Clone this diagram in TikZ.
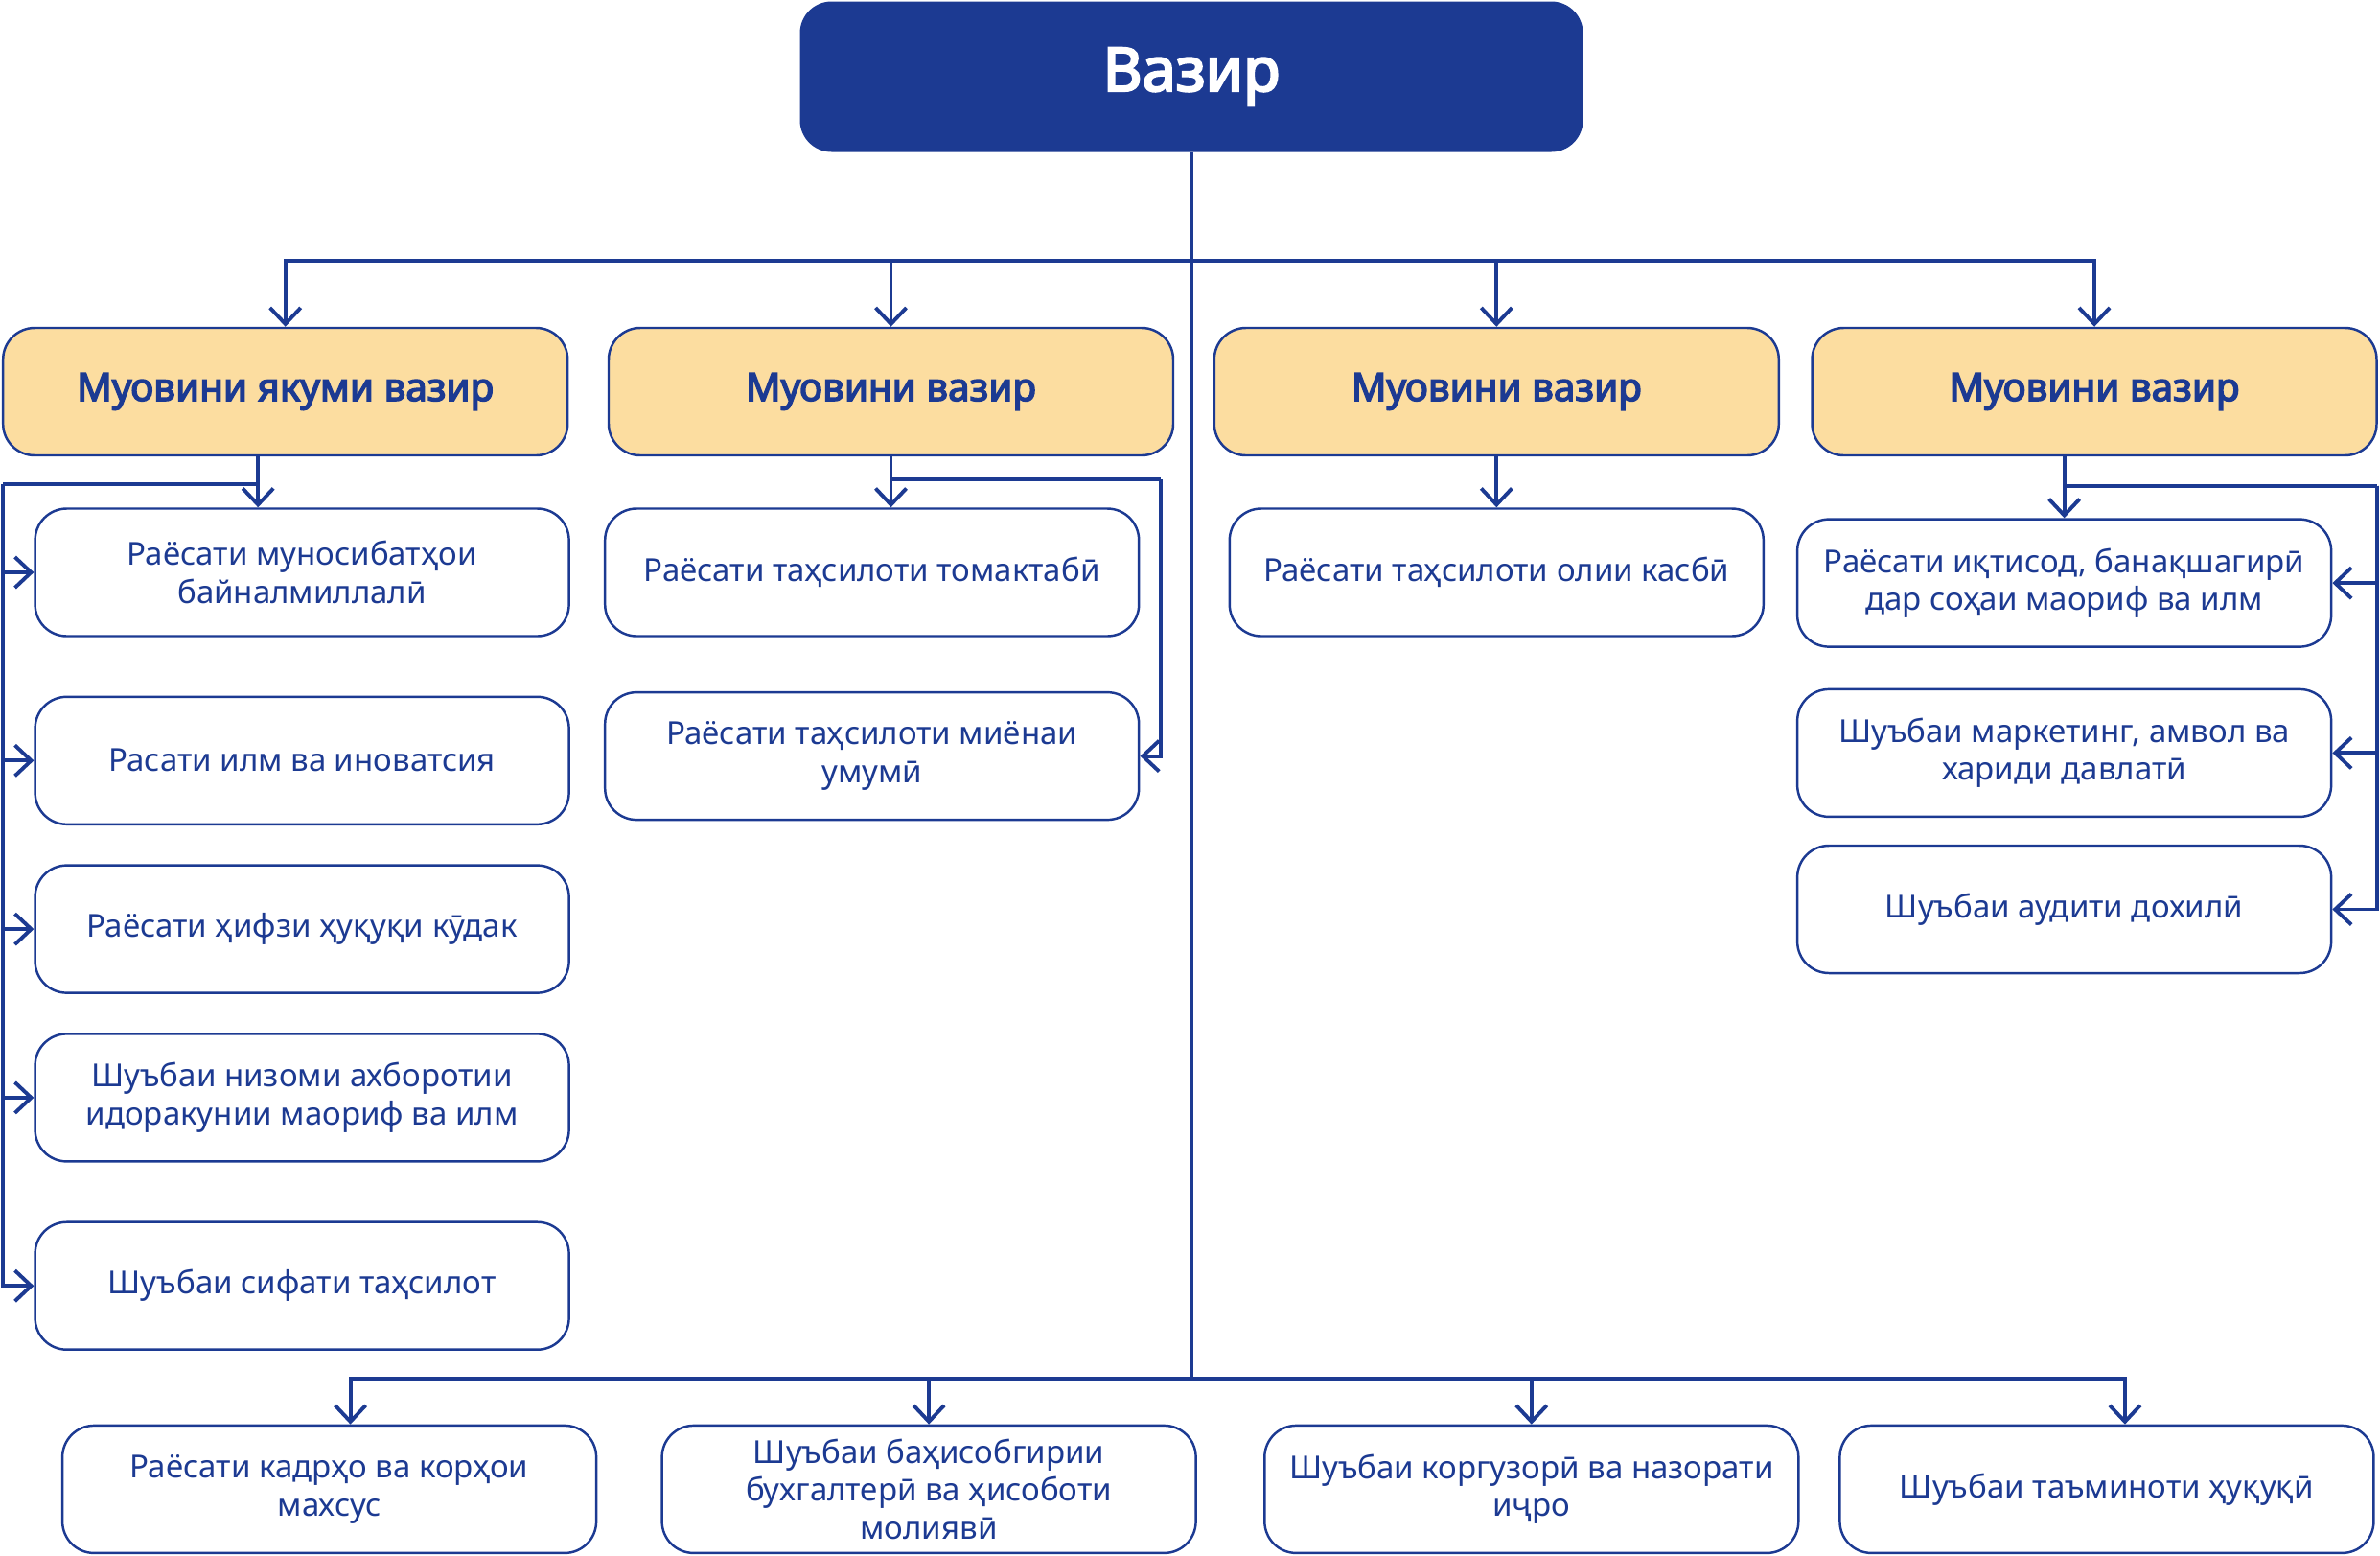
\documentclass[tikz,border=0pt]{standalone}
\usepackage{fontspec}
\setmainfont{Noto Sans}[AutoFakeBold=3.6]
\usepackage{tikz}
\usetikzlibrary{arrows.meta,positioning}

\definecolor{vblue}{RGB}{28,58,146}
\definecolor{vsand}{RGB}{252,221,160}

\begin{document}
\begin{tikzpicture}[
    >={Straight Barb[length=1.7mm, width=3.2mm, line width=1.1pt]},
    boss/.style={fill=vblue, rounded corners=0.33cm, minimum width=8.17cm, minimum height=1.57cm, text=white, font=\bfseries\fontsize{18}{21}\selectfont},
    dep/.style={draw=vblue, line width=0.7pt, fill=vsand, rounded corners=0.33cm, minimum width=5.89cm, minimum height=1.33cm, text=vblue, font=\bfseries\fontsize{11.5}{13}\selectfont},
    unit/.style={draw=vblue, line width=0.7pt, fill=white, rounded corners=0.33cm, align=center, minimum width=5.57cm, minimum height=1.33cm, text=vblue, font=\fontsize{9.4}{11.2}\selectfont},
    link/.style={draw=vblue, line width=1.1pt}
]
\useasboundingbox (0,0) rectangle (24.83,-16.22);

% Head
\node[boss] (vazir) at (12.43,-0.80) {Вазир};

% Deputies
\node[dep] (d1) at (2.977,-4.085) {Муовини якуми вазир};
\node[dep] (d2) at (9.295,-4.085) {Муовини вазир};
\node[dep] (d3) at (15.613,-4.085) {Муовини вазир};
\node[dep] (d4) at (21.85,-4.085) {Муовини вазир};

% First deputy units
\node[unit] (c11) at (3.151,-5.970) {Раёсати муносибатҳои\\байналмиллалӣ};
\node[unit] (c12) at (3.151,-7.933) {Расати илм ва иноватсия};
\node[unit] (c13) at (3.151,-9.691) {Раёсати ҳифзи ҳуқуқи кӯдак};
\node[unit] (c14) at (3.151,-11.449) {Шуъбаи низоми ахборотии\\идоракунии маориф ва илм};
\node[unit] (c15) at (3.151,-13.412) {Шуъбаи сифати таҳсилот};

% Second deputy units
\node[unit] (c21) at (9.097,-5.970) {Раёсати таҳсилоти томактабӣ};
\node[unit] (c22) at (9.097,-7.886) {Раёсати таҳсилоти миёнаи\\умумӣ};

% Third deputy unit
\node[unit] (c31) at (15.613,-5.970) {Раёсати таҳсилоти олии касбӣ};

% Fourth deputy units
\node[unit] (c41) at (21.536,-6.081) {Раёсати иқтисод, банақшагирӣ\\дар соҳаи маориф ва илм};
\node[unit] (c42) at (21.536,-7.854) {Шуъбаи маркетинг, амвол ва\\хариди давлатӣ};
\node[unit] (c43) at (21.536,-9.485) {Шуъбаи аудити дохилӣ};

% Units under the minister
\node[unit] (b1) at (3.436,-15.534) {Раёсати кадрҳо ва корҳои\\махсус};
\node[unit] (b2) at (9.691,-15.534) {Шуъбаи баҳисобгирии\\бухгалтерӣ ва ҳисоботи\\молиявӣ};
\node[unit] (b3) at (15.978,-15.534) {Шуъбаи коргузорӣ ва назорати\\иҷро};
\node[unit] (b4) at (21.979,-15.534) {Шуъбаи таъминоти ҳуқуқӣ};

% Junctions
\coordinate (tbar) at (12.43,-2.724);
\coordinate (bbar) at (12.43,-14.378);
\coordinate (j1) at (2.692,-5.051);
\coordinate (r1) at (0.032,-5.051);
\coordinate (j2) at (9.295,-5.004);
\coordinate (r2) at (12.114,-5.004);
\coordinate (j4) at (21.536,-5.067);
\coordinate (r4) at (24.798,-5.067);

% Trunk
\draw[link] (vazir) -- (bbar);
\foreach \d in {d1,d2,d3,d4}
    \draw[link,->] (tbar) -| (\d);
\draw[link,->] (bbar) -| ([xshift=2.2mm]b1.north);
\draw[link,->] (bbar) -| (b2);
\draw[link,->] (bbar) -| (b3);
\draw[link,->] (bbar) -| ([xshift=1.9mm]b4.north);

% First deputy
\draw[link] (d1.south -| j1) -- (j1) -- (r1);
\draw[link,->] (j1) -- (j1 |- c11.north);
\foreach \c in {c11,c12,c13,c14,c15}
    \draw[link,->] (r1) |- (\c.west);

% Second deputy
\draw[link] (d2) -- (j2) -- (r2);
\draw[link,->] (j2) -- (j2 |- c21.north);
\draw[link,->] (r2) |- (c22.east);

% Third deputy
\draw[link,->] (d3) -- (c31);

% Fourth deputy
\draw[link] (d4.south -| j4) -- (j4) -- (r4);
\draw[link,->] (j4) -- (c41);
\foreach \c in {c41,c42,c43}
    \draw[link,->] (r4) |- (\c.east);

\end{tikzpicture}
\end{document}
